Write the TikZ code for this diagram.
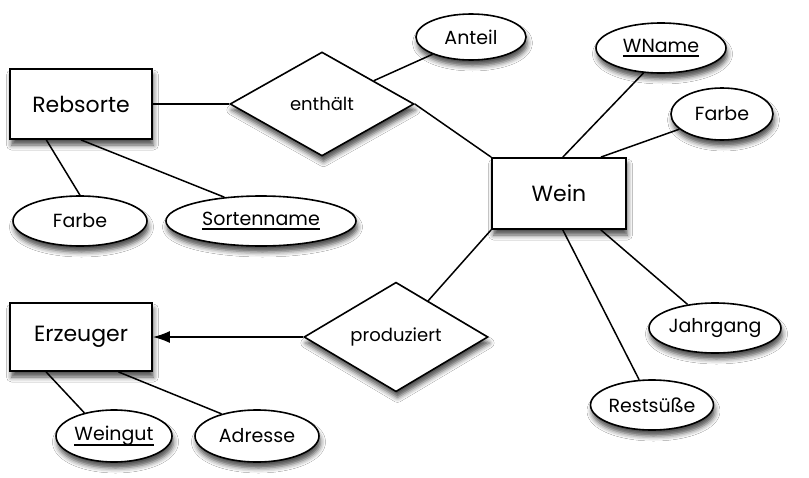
\documentclass[tikz,border=0pt]{standalone}
\usepackage{fontspec}
\setmainfont{Poppins}
\usetikzlibrary{shapes.geometric,arrows.meta,shadows.blur}
\newcommand\keyul[1]{\leavevmode\vtop{\hbox{\raisebox{0pt}[\height][0pt]{#1}}\kern3pt\hrule height 1.6pt}}
\begin{document}
\begin{tikzpicture}[x=1pt,y=-1pt,
  shade/.style={blur shadow={shadow xshift=1.5pt,shadow yshift=-6pt,shadow blur radius=5pt,shadow opacity=70}},
  entity/.style={rectangle,draw,line width=1.8pt,fill=white,inner sep=0pt,
    minimum width=142pt,minimum height=70pt,font=\fontsize{22}{26}\selectfont,shade},
  relation/.style={diamond,draw,line width=1.6pt,fill=white,inner sep=0pt,
    minimum width=184pt,minimum height=104pt,font=\fontsize{18}{22}\selectfont,shade},
  attr/.style={ellipse,draw,line width=1.6pt,fill=white,inner sep=0pt,
    minimum width=120pt,minimum height=50pt,font=\fontsize{19}{23}\selectfont,shade},
  conn/.style={line width=1.5pt,draw=black}]
\fill[white] (0,0) rectangle (809,477);
\useasboundingbox (0,0) rectangle (809,477);
% entities
\node[entity] (rebsorte) at (81,104) {Rebsorte};
\node[entity,minimum height=68pt] (erzeuger) at (81,337) {Erzeuger};
\node[entity,minimum width=134pt,minimum height=71pt] (wein) at (559,193.5) {Wein};
% relationships
\node[relation] (enthaelt) at (322,104) {enthält};
\node[relation] (produziert) at (396,337) {produziert};
% attributes
\node[attr,minimum width=110pt,minimum height=46pt] (anteil) at (471,37) {Anteil};
\node[attr,minimum width=130pt] (wname) at (661,48) {\keyul{WName}};
\node[attr,minimum width=102pt,minimum height=52pt] (farbew) at (722,114) {Farbe};
\node[attr,minimum width=132pt] (jahrgang) at (715,328) {Jahrgang};
\node[attr,minimum width=118pt] (rests) at (652,405) {Restsüße};
\node[attr,minimum width=134pt] (farber) at (80,221) {Farbe};
\node[attr,minimum width=190pt] (sorten) at (261,221) {\keyul{Sortenname}};
\node[attr,minimum width=116pt,minimum height=52pt] (weingut) at (114,436) {\keyul{Weingut}};
\node[attr,minimum width=124pt,minimum height=52pt] (adresse) at (257,436) {Adresse};
% connectors
\draw[conn] (rebsorte) -- (enthaelt);
\draw[conn] (enthaelt) -- (anteil);
\draw[conn] (enthaelt.east) -- (wein.north west);
\draw[conn] (rebsorte.226) -- (farber.north);
\draw[conn] (rebsorte.south) -- (sorten.147);
\draw[conn] (wein.84) -- (wname.235);
\draw[conn] (wein.41) -- (farbew);
\draw[conn] (wein.-41) -- (jahrgang);
\draw[conn] (wein.276) -- (rests);
\draw[conn] (produziert) -- (wein.south west);
\draw[conn,-{Latex[length=17pt,width=12pt]}] (produziert) -- (erzeuger);
\draw[conn] (erzeuger.225) -- (weingut.142);
\draw[conn] (erzeuger.317) -- (adresse.148);
\end{tikzpicture}
\end{document}
